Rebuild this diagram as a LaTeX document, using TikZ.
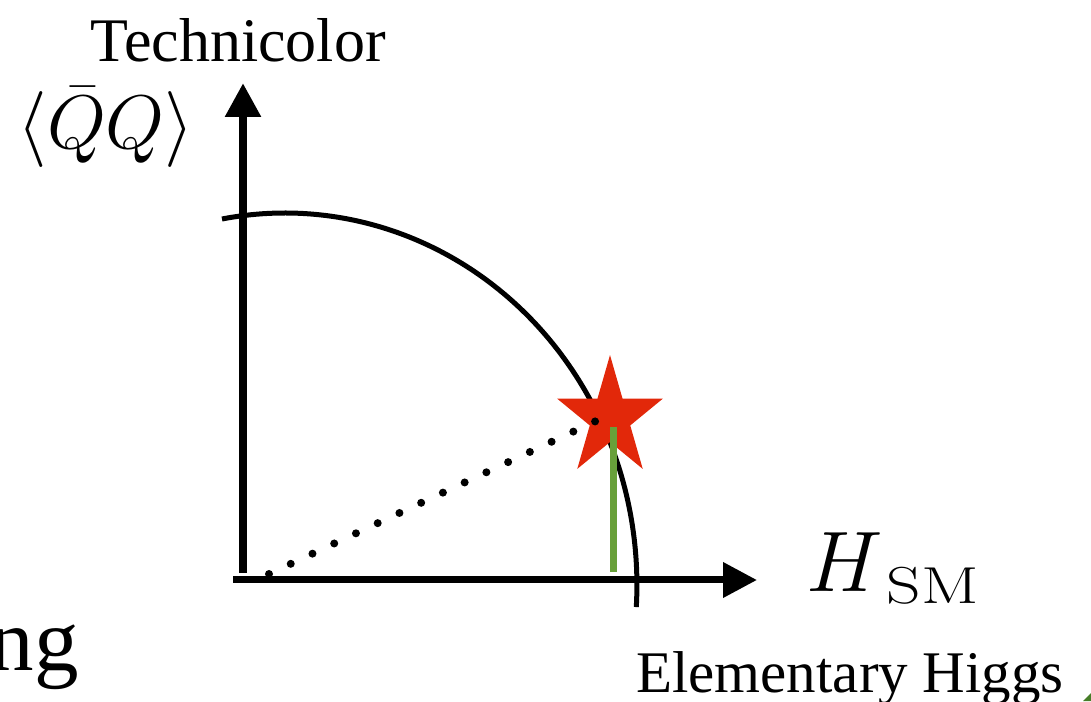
\RequirePackage{fix-cm}
\documentclass[tikz,border=0pt]{standalone}
\usepackage{amsmath,amssymb,graphicx}
\usepackage[no-math]{fontspec}
\setmainfont{Liberation Serif}
\usetikzlibrary{arrows.meta,shapes.geometric}
\definecolor{starred}{RGB}{226,40,10}
\definecolor{higgsgreen}{RGB}{104,160,58}
\definecolor{cornergreen}{RGB}{70,125,40}

\begin{document}
\begin{tikzpicture}[x=1pt,y=1pt,>={Triangle[length=34pt,width=34pt]}, line join=round]
	\useasboundingbox (0,0) rectangle (1091,701);
	\coordinate (O) at (243,121);
	\coordinate (ybot) at (243,128); \coordinate (yend) at (243,618);
	\coordinate (xbeg) at (233,121); \coordinate (xend) at (757,121);
	\draw[line width=5pt] (222,482) arc[start angle=100.3, end angle=-3.4, x radius=352pt, y radius=372pt];
	\draw[->, line width=8.5pt] (ybot)--(yend);
	\draw[->, line width=7pt] (xbeg)--(xend);
	\node[star, star points=5, star point ratio=2.618, minimum size=111.4pt, inner sep=0pt, fill=starred, yscale=1.13, transform shape] (str) at (610,283) {};
	\coordinate (d0) at (269,127); \coordinate (d1) at (596,280);
	\draw[line width=8pt, line cap=round, dash pattern=on 0pt off 24pt] (d0)--(d1);
	\coordinate (g0) at (613,129); \coordinate (g1) at (613,274);
	\draw[higgsgreen, line width=7pt] (g0)--(g1);
	\node[font=\fontsize{62}{62}\selectfont, anchor=base, inner sep=0pt] (tc) at (238,639) {Technicolor};
	\node[font=\fontsize{76}{76}\selectfont, anchor=base, inner sep=0pt] (vev) at (106,552) {$\langle\bar{Q}Q\rangle$};
	\node[anchor=base west, inner sep=0pt] (hsm) at (806,109) {\fontsize{43}{43}\selectfont\scalebox{2}{$H$}\hspace{4pt}\raisebox{-11pt}{\fontsize{52}{52}\selectfont\scalebox{1.3}[1]{$\mathrm{SM}$}}};
	\node[font=\fontsize{59}{59}\selectfont, anchor=base, inner sep=0pt] (elem) at (850,9) {Elementary Higgs};
	\node[font=\fontsize{89}{89}\selectfont, anchor=base east, inner sep=0pt] (ng) at (79,31) {ng};
	\fill[cornergreen] (1083,0)--(1091,8)--(1091,0)--cycle;
\end{tikzpicture}
\end{document}
